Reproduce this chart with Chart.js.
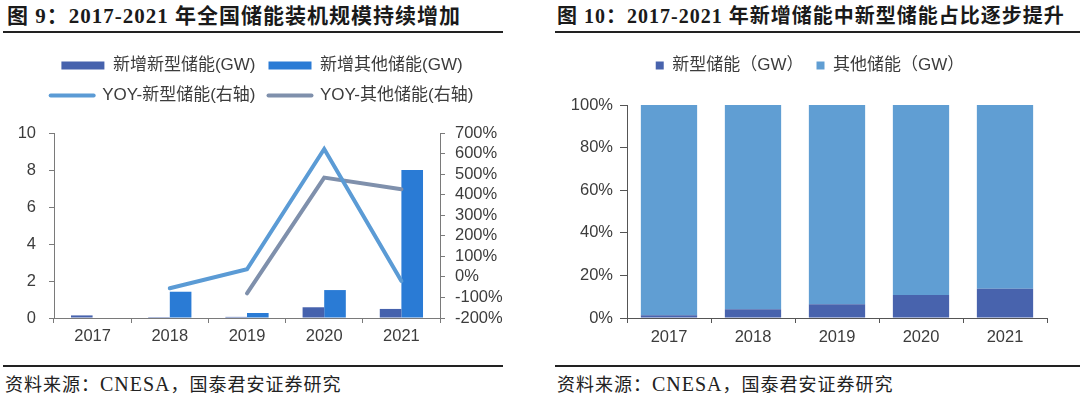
<!DOCTYPE html>
<html>
<head>
<meta charset="utf-8">
<script src="https://cdn.jsdelivr.net/npm/chart.js@4.4.1/dist/chart.umd.min.js"></script>
<style>
html,body{margin:0;padding:0;background:#fff;}
body{width:1080px;height:395px;overflow:hidden;position:relative;}
.t{position:absolute;font-family:"Liberation Serif","Noto Sans CJK SC",serif;font-weight:bold;font-size:21px;letter-spacing:1px;color:#1a1a1a;line-height:24px;white-space:nowrap;}
.rule{position:absolute;background:#222;}
.src{position:absolute;font-family:"Liberation Serif","Noto Sans CJK SC",serif;font-size:18px;letter-spacing:1px;color:#222;line-height:20px;white-space:nowrap;}
.src .lat{font-size:20px;}
.box{position:absolute;top:40px;width:540px;height:318px;}
</style>
</head>
<body>
<div class="t" style="left:7px;top:4px;">图 9：2017-2021 年全国储能装机规模持续增加</div>
<div class="rule" style="left:3px;top:31px;width:500px;height:2px;"></div>
<div class="t" style="left:557px;top:4px;font-size:20px;">图 10：2017-2021 年新增储能中新型储能占比逐步提升</div>
<div class="rule" style="left:555px;top:31px;width:525px;height:2px;"></div>

<div class="box" style="left:0;"><canvas id="c1" width="540" height="318"></canvas></div>
<div class="box" style="left:540px;"><canvas id="c2" width="540" height="318"></canvas></div>

<div class="rule" style="left:3px;top:365px;width:500px;height:1.5px;"></div>
<div class="rule" style="left:555px;top:365px;width:525px;height:1.5px;"></div>
<div class="src" style="left:5px;top:374px;">资料来源：<span class="lat">CNESA</span>，国泰君安证券研究</div>
<div class="src" style="left:557px;top:374px;">资料来源：<span class="lat">CNESA</span>，国泰君安证券研究</div>

<script>
// ---------- data ----------
const years = ['2017', '2018', '2019', '2020', '2021'];

// Figure 9: new installations (GW, left axis)
const newStorageGW   = [0.14, 0.05, 0.06, 0.58, 0.49];
const otherStorageGW = [0, 1.42, 0.27, 1.51, 8.0];
// Figure 9: YoY growth (%, right axis)
const yoyNewPct   = [null, -55, 37, 622, -20];
const yoyOtherPct = [null, null, -80, 483, 426];

// Figure 10: share of new installations (%)
const newSharePct   = [1.3, 4.1, 6.4, 10.8, 13.7];
const otherSharePct = [98.7, 95.9, 93.6, 89.2, 86.3];

// series names
const fig9Names  = ['新增新型储能(GW)', '新增其他储能(GW)', 'YOY-新型储能(右轴)', 'YOY-其他储能(右轴)'];
const fig10Names = ['新型储能（GW）', '其他储能（GW）'];

// axis ranges / tick steps
const leftAxis  = {min: 0, max: 10, step: 2};
const rightAxis = {min: -200, max: 700, step: 100};
const shareAxis = {min: 0, max: 100, step: 20};

// ---------- styling ----------
Chart.defaults.font.family = '"Liberation Sans","Noto Sans CJK SC",Arial,sans-serif';
Chart.defaults.color = '#3c3c3c';

const AX1 = '#7a7a7a';
const AX2 = '#555555';
const TICKC = '#3c3c3c';

const legendGap = {
  id: 'legendGap',
  beforeInit(chart, args, opts) {
    const lg = chart.legend;
    if (!lg || lg._gapPatched) return;
    const fit = lg.fit;
    lg.fit = function () { fit.call(this); this.height += (opts.extra || 0); };
    lg._gapPatched = true;
  }
};

// ---------- Figure 9 ----------
new Chart(document.getElementById('c1'), {
  type: 'bar',
  data: {
    labels: years,
    datasets: [
      {label: fig9Names[0], data: newStorageGW, backgroundColor: '#4662AD', yAxisID: 'y', order: 2},
      {label: fig9Names[1], data: otherStorageGW, backgroundColor: '#2A7BD5', yAxisID: 'y', order: 2},
      {type: 'line', label: fig9Names[2], data: yoyNewPct, borderColor: '#5B9BD5', backgroundColor: '#5B9BD5',
       borderWidth: 4, pointRadius: 0, tension: 0, yAxisID: 'y1', order: 1, borderCapStyle: 'round', borderJoinStyle: 'miter'},
      {type: 'line', label: fig9Names[3], data: yoyOtherPct, borderColor: '#7F90AC', backgroundColor: '#7F90AC',
       borderWidth: 4, pointRadius: 0, tension: 0, yAxisID: 'y1', order: 1, borderCapStyle: 'round', borderJoinStyle: 'miter'}
    ]
  },
  options: {
    responsive: false,
    animation: false,
    devicePixelRatio: 1,
    layout: {padding: {top: 4, right: 16, left: 0, bottom: 0}},
    datasets: {bar: {categoryPercentage: 0.56, barPercentage: 1}},
    plugins: {
      tooltip: {enabled: false},
      legendGap: {extra: 19},
      legend: {
        position: 'top',
        labels: {
          font: {size: 17},
          color: '#3c3c3c',
          usePointStyle: true,
          pointStyleWidth: 43,
          boxHeight: 8,
          padding: 13,
          generateLabels(chart) {
            return chart.data.datasets.map((ds, i) => {
              const isLine = ds.type === 'line';
              return {
                text: ds.label,
                datasetIndex: i,
                hidden: false,
                fillStyle: isLine ? 'rgba(0,0,0,0)' : ds.backgroundColor,
                strokeStyle: isLine ? ds.borderColor : ds.backgroundColor,
                lineWidth: isLine ? 4 : 0,
                lineCap: isLine ? 'round' : 'butt',
                pointStyle: isLine ? 'line' : 'rect',
                fontColor: '#3c3c3c'
              };
            });
          }
        }
      }
    },
    scales: {
      x: {
        grid: {display: true, drawOnChartArea: false, drawTicks: true, tickLength: 5, color: AX1, offset: true},
        border: {color: AX1},
        ticks: {font: {size: 16.5}, color: TICKC, padding: 4},
        afterFit(s) { s.height = 40; }
      },
      y: {
        position: 'left', min: leftAxis.min, max: leftAxis.max,
        grid: {drawOnChartArea: false, tickLength: 5, color: AX1},
        border: {color: AX1},
        ticks: {stepSize: leftAxis.step, font: {size: 16.5}, color: TICKC, padding: 13, autoSkip: false},
        afterFit(s) { s.width = 54; }
      },
      y1: {
        position: 'right', min: rightAxis.min, max: rightAxis.max,
        grid: {drawOnChartArea: false, tickLength: 5, color: AX1},
        border: {color: AX1},
        ticks: {stepSize: rightAxis.step, font: {size: 16.5}, color: TICKC, padding: 10, autoSkip: false,
                callback: v => v + '%'},
        afterFit(s) { s.width = 84; }
      }
    }
  },
  plugins: [legendGap]
});

// ---------- Figure 10 ----------
new Chart(document.getElementById('c2'), {
  type: 'bar',
  data: {
    labels: years,
    datasets: [
      {label: fig10Names[0], data: newSharePct, backgroundColor: '#4863AD'},
      {label: fig10Names[1], data: otherSharePct, backgroundColor: '#609ED3'}
    ]
  },
  options: {
    responsive: false,
    animation: false,
    devicePixelRatio: 1,
    layout: {padding: {top: 4, right: 0, left: 0, bottom: 0}},
    datasets: {bar: {categoryPercentage: 0.67, barPercentage: 1}},
    plugins: {
      tooltip: {enabled: false},
      legendGap: {extra: 21},
      legend: {
        position: 'top',
        labels: {font: {size: 17}, color: '#3c3c3c', boxWidth: 8, boxHeight: 8, padding: 13}
      }
    },
    scales: {
      x: {
        stacked: true,
        grid: {display: true, drawOnChartArea: false, drawTicks: true, tickLength: 5, color: AX2, offset: true},
        border: {color: AX2},
        ticks: {font: {size: 16.5}, color: TICKC, padding: 5},
        afterFit(s) { s.height = 40; }
      },
      y: {
        stacked: true, min: shareAxis.min, max: shareAxis.max,
        grid: {drawOnChartArea: false, tickLength: 7, color: AX2},
        border: {color: AX2},
        ticks: {stepSize: shareAxis.step, font: {size: 16.5}, color: TICKC, padding: 7, autoSkip: false,
                callback: v => v + '%'},
        afterFit(s) { s.width = 87; }
      },
      y2: {
        position: 'right', display: true,
        grid: {display: false}, border: {display: false}, ticks: {display: false},
        afterFit(s) { s.width = 33; }
      }
    }
  },
  plugins: [legendGap]
});
</script>
</body>
</html>
